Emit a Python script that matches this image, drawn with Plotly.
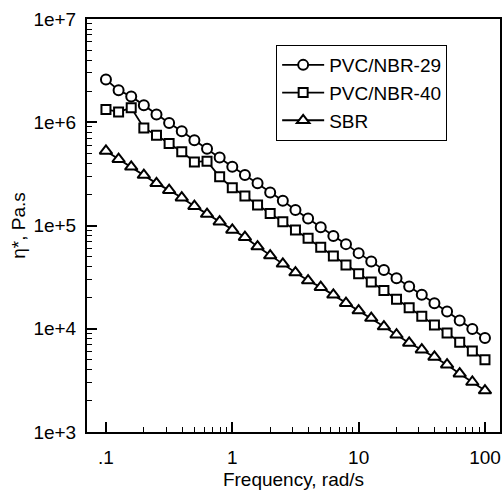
import plotly.graph_objects as go

freq = [0.1, 0.1259, 0.1585, 0.1995, 0.2512, 0.3162, 0.3981, 0.5012, 0.631, 0.7943,
        1, 1.259, 1.585, 1.995, 2.512, 3.162, 3.981, 5.012, 6.31, 7.943,
        10, 12.59, 15.85, 19.95, 25.12, 31.62, 39.81, 50.12, 63.1, 79.43, 100]

pvc_nbr29 = [2.59e6, 2.04e6, 1.78e6, 1.46e6, 1.19e6, 9.85e5, 8.18e5, 6.70e5, 5.54e5, 4.56e5,
             3.70e5, 3.08e5, 2.56e5, 2.09e5, 1.74e5, 1.41e5, 1.17e5, 9.6e4, 7.9e4, 6.6e4,
             5.4e4, 4.47e4, 3.71e4, 3.09e4, 2.56e4, 2.13e4, 1.77e4, 1.47e4, 1.20e4, 9.93e3, 8.13e3]

pvc_nbr40 = [1.33e6, 1.26e6, 1.38e6, 8.81e5, 7.49e5, 6.22e5, 5.17e5, 4.13e5, 4.20e5, 2.96e5,
             2.32e5, 1.93e5, 1.58e5, 1.31e5, 1.09e5, 9.05e4, 7.52e4, 6.15e4, 5.07e4, 4.15e4,
             3.40e4, 2.83e4, 2.35e4, 1.93e4, 1.60e4, 1.32e4, 1.09e4, 9.1e3, 7.4e3, 6.1e3, 5.0e3]

sbr = [5.28e5, 4.39e5, 3.70e5, 3.08e5, 2.56e5, 2.20e5, 1.86e5, 1.54e5, 1.29e5, 1.09e5,
       9.05e4, 7.70e4, 6.25e4, 5.11e4, 4.25e4, 3.50e4, 2.93e4, 2.53e4, 2.13e4, 1.77e4,
       1.50e4, 1.27e4, 1.05e4, 8.75e3, 7.28e3, 6.27e3, 5.33e3, 4.49e3, 3.67e3, 3.05e3, 2.52e3]

series_names = ["PVC/NBR-29", "PVC/NBR-40", "SBR"]
x_tickvals = [0.1, 1, 10, 100]
x_ticktext = [".1", "1", "10", "100"]
y_tickvals = [1e3, 1e4, 1e5, 1e6, 1e7]
y_ticktext = ["1e+3", "1e+4", "1e+5", "1e+6", "1e+7"]

FONT = "Liberation Sans, Arial, Helvetica, sans-serif"

fig = go.Figure()
for name, ys, sym, sz in zip(series_names, [pvc_nbr29, pvc_nbr40, sbr],
                             ["circle", "square", "triangle-up"], [10, 9, 11]):
    fig.add_trace(go.Scatter(
        x=freq, y=ys, name=name, mode="lines+markers",
        line=dict(color="black", width=1.8),
        marker=dict(symbol=sym, size=sz, color="white",
                    line=dict(color="black", width=2)),
    ))

minor_x = [m * 10**e for e in range(-1, 2) for m in range(2, 10)]
minor_y = [m * 10**e for e in range(3, 7) for m in range(2, 10)]

fig.update_layout(
    template="none",
    width=504, height=490,
    margin=dict(l=87, r=4, t=19, b=58),
    paper_bgcolor="white", plot_bgcolor="white",
    font=dict(family=FONT, size=19, color="black"),
    showlegend=True,
    legend=dict(x=0.458, y=0.937, xanchor="left", yanchor="top",
                bgcolor="white", bordercolor="black", borderwidth=1,
                font=dict(family=FONT, size=19, color="black"),
                tracegroupgap=0, itemwidth=42),
)
fig.update_xaxes(
    type="log", range=[-1.15, 2.119], showgrid=False, zeroline=False,
    showline=True, linecolor="black", linewidth=2, mirror=True,
    ticks="inside", ticklen=10, tickwidth=1.5, tickcolor="black",
    tickmode="array", tickvals=x_tickvals, ticktext=x_ticktext,
    tickfont=dict(size=19, color="black"), ticklabelstandoff=7,
    minor=dict(ticks="inside", ticklen=5, tickwidth=1, tickcolor="black",
               tickmode="array", tickvals=minor_x, showgrid=False),
    title=dict(text="Frequency, rad/s", standoff=9, font=dict(size=19, color="black")),
)
fig.update_yaxes(
    type="log", range=[3, 7], showgrid=False, zeroline=False,
    showline=True, linecolor="black", linewidth=2, mirror=True,
    ticks="inside", ticklen=10, tickwidth=1.5, tickcolor="black",
    tickmode="array", tickvals=y_tickvals, ticktext=y_ticktext,
    tickfont=dict(size=19, color="black"), ticklabelstandoff=5,
    minor=dict(ticks="inside", ticklen=5, tickwidth=1, tickcolor="black",
               tickmode="array", tickvals=minor_y, showgrid=False),
    title=dict(text="η*, Pa.s", standoff=3, font=dict(size=19, color="black")),
)

fig.write_html("out.html",
               config={"displayModeBar": False},
               post_script="document.body.style.margin='0';document.body.style.overflow='hidden';")
